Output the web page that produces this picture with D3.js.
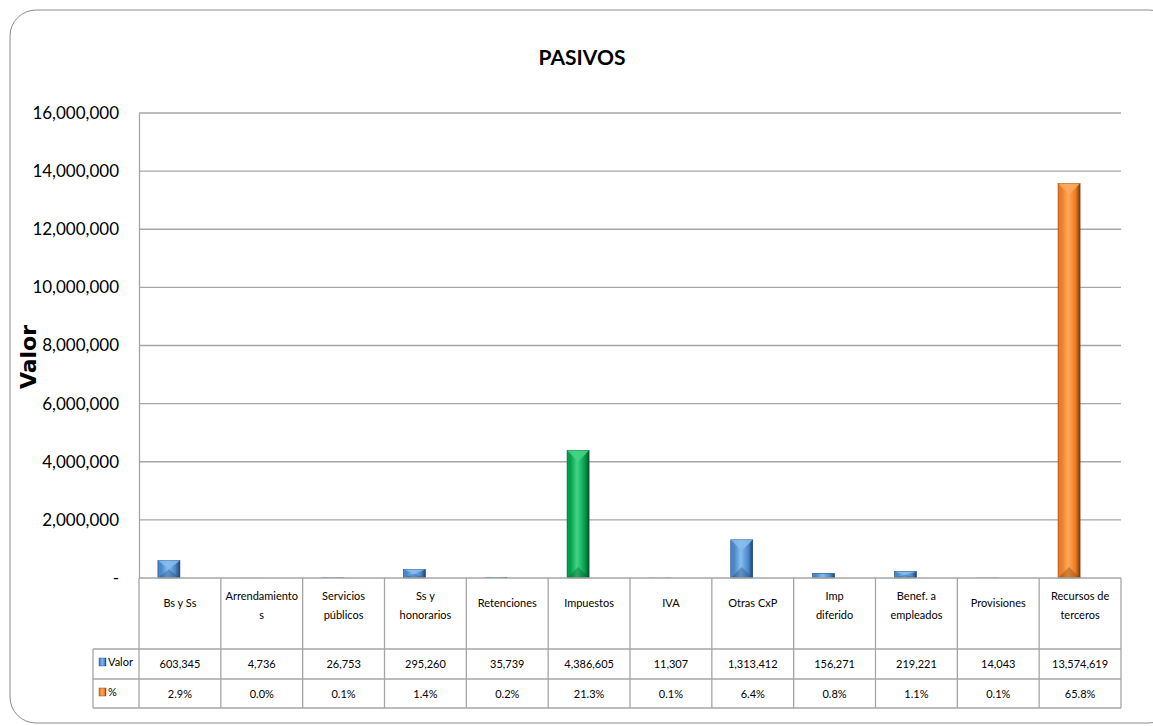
<!DOCTYPE html>
<html>
<head>
<meta charset="utf-8">
<script src="https://cdn.jsdelivr.net/npm/d3@7"></script>
<style>
  body { margin: 0; background: #fff; }
  svg { display: block; }
</style>
</head>
<body>
<div id="chart"></div>
<script>
// Chart data
var categories = ["Bs y Ss", "Arrendamientos", "Servicios públicos", "Ss y honorarios", "Retenciones",
  "Impuestos", "IVA", "Otras CxP", "Imp diferido", "Benef. a empleados", "Provisiones", "Recursos de terceros"];
var headerLines = [["Bs y Ss"], ["Arrendamiento", "s"], ["Servicios", "públicos"], ["Ss y", "honorarios"], ["Retenciones"],
  ["Impuestos"], ["IVA"], ["Otras CxP"], ["Imp", "diferido"], ["Benef. a", "empleados"], ["Provisiones"], ["Recursos de", "terceros"]];
var valor = [603345, 4736, 26753, 295260, 35739, 4386605, 11307, 1313412, 156271, 219221, 14043, 13574619];
var pct = [2.9, 0.0, 0.1, 1.4, 0.2, 21.3, 0.1, 6.4, 0.8, 1.1, 0.1, 65.8];
var series = ["Valor", "%"];
var yTicks = [0, 2000000, 4000000, 6000000, 8000000, 10000000, 12000000, 14000000, 16000000];

// Layout
var width = 1153, height = 726;
var plotLeft = 139, plotRight = 1121, plotTop = 113, plotBottom = 578;
var rowHeader = 649, rowValor = 679, rowPct = 708, legendLeft = 93;

var svg = d3.select("#chart").append("svg")
  .attr("width", width)
  .attr("height", height);

// colors for bars
var palette = {
  blue:   { base: "#4a86c8", light: "#86bdf0", dark: "#1d426e" },
  green:  { base: "#00a04c", light: "#45d485", dark: "#00522a" },
  orange: { base: "#ee7a22", light: "#ffa95c", dark: "#7a3a06" }
};
function colorOf(cat, s) {
  if (s === "%") return "orange";
  if (cat === "Impuestos") return "green";
  if (cat === "Recursos de terceros") return "orange";
  return "blue";
}

var defs = svg.append("defs");
Object.keys(palette).forEach(function(k) {
  var p = palette[k];
  var g = defs.append("linearGradient").attr("id", "grad-" + k)
    .attr("x1", "0").attr("x2", "1").attr("y1", "0").attr("y2", "0");
  g.append("stop").attr("offset", "0").attr("stop-color", p.base);
  g.append("stop").attr("offset", "0.15").attr("stop-color", p.base);
  g.append("stop").attr("offset", "0.45").attr("stop-color", p.light);
  g.append("stop").attr("offset", "0.8").attr("stop-color", p.base);
  g.append("stop").attr("offset", "1").attr("stop-color", p.dark);
});

// outer frame
svg.append("rect")
  .attr("x", 10).attr("y", 10)
  .attr("width", 1165).attr("height", 713)
  .attr("rx", 26).attr("ry", 26)
  .attr("fill", "#fff")
  .attr("stroke", "#8c8c8c")
  .attr("stroke-width", 1);

// scales
var y = d3.scaleLinear().domain([0, 16000000]).range([plotBottom, plotTop]);
var x0 = d3.scaleBand().domain(categories).range([plotLeft, plotRight]);
var x1 = d3.scaleBand().domain(series).range([0, x0.bandwidth()]).paddingOuter(0.86);

// gridlines
svg.append("g").selectAll("line")
  .data(yTicks.slice(1))
  .enter()
  .append("line")
  .attr("x1", plotLeft).attr("x2", plotRight)
  .attr("y1", function(d) { return y(d); })
  .attr("y2", function(d) { return y(d); })
  .attr("stroke", "#a6a6a6")
  .attr("stroke-width", 1.3);

// y axis
var yAxis = d3.axisLeft(y)
  .tickValues(yTicks)
  .tickSize(0)
  .tickPadding(20)
  .tickFormat(function(d) { return d === 0 ? "-  " : d3.format(",")(d); });

var gy = svg.append("g")
  .attr("transform", "translate(" + plotLeft + ",0)")
  .call(yAxis);
gy.select(".domain").attr("stroke", "#a6a6a6").attr("stroke-width", 1.3);
gy.selectAll("text")
  .attr("font-family", "Lato, 'Open Sans', sans-serif")
  .attr("font-size", "17px")
  .attr("fill", "#000");

// axis title
svg.append("text")
  .attr("transform", "translate(36,357) rotate(-90)")
  .attr("text-anchor", "middle")
  .attr("font-family", "'DejaVu Sans', Verdana, sans-serif")
  .attr("font-weight", "bold")
  .attr("font-size", "22px")
  .text("Valor");

// chart title
svg.append("text")
  .attr("x", 582).attr("y", 65)
  .attr("text-anchor", "middle")
  .attr("font-family", "Lato, 'Open Sans', sans-serif")
  .attr("font-weight", "bold")
  .attr("font-size", "21px")
  .text("PASIVOS");

// bars
var barData = [];
categories.forEach(function(c, i) {
  barData.push({ cat: c, s: "Valor", v: valor[i] });
  barData.push({ cat: c, s: "%", v: pct[i] / 100 });
});

var bars = svg.append("g").selectAll("g")
  .data(barData)
  .enter()
  .append("g");

bars.append("rect")
  .attr("x", function(d) { return x0(d.cat) + x1(d.s); })
  .attr("y", function(d) { return y(d.v); })
  .attr("width", x1.bandwidth())
  .attr("height", function(d) { return y(0) - y(d.v); })
  .attr("fill", function(d) { return "url(#grad-" + colorOf(d.cat, d.s) + ")"; })
  .attr("stroke", function(d) { return y(0) - y(d.v) > 2 ? palette[colorOf(d.cat, d.s)].dark : "none"; })
  .attr("stroke-width", 0.6);

// bevel: light triangle on top, darker one at bottom
bars.filter(function(d) { return y(0) - y(d.v) > 6; })
  .append("path")
  .attr("d", function(d) {
    var bx = x0(d.cat) + x1(d.s), bw = x1.bandwidth();
    var by = y(d.v), bh = y(0) - y(d.v);
    var dep = Math.min(bw / 2, bh / 2);
    return "M" + bx + "," + by + "L" + (bx + bw) + "," + by + "L" + (bx + bw / 2) + "," + (by + dep) + "Z";
  })
  .attr("fill", function(d) { return palette[colorOf(d.cat, d.s)].light; })
  .attr("opacity", 0.85);

bars.filter(function(d) { return y(0) - y(d.v) > 6; })
  .append("path")
  .attr("d", function(d) {
    var bx = x0(d.cat) + x1(d.s), bw = x1.bandwidth();
    var by = y(d.v), bh = y(0) - y(d.v);
    var dep = Math.min(bw / 2, bh / 2);
    return "M" + bx + "," + (by + bh) + "L" + (bx + bw) + "," + (by + bh) + "L" + (bx + bw / 2) + "," + (by + bh - dep) + "Z";
  })
  .attr("fill", function(d) { return palette[colorOf(d.cat, d.s)].dark; })
  .attr("opacity", 0.35);

// data table
var grid = svg.append("g")
  .attr("stroke", "#a6a6a6")
  .attr("stroke-width", 1.3);

// horizontal lines
grid.append("line").attr("x1", plotLeft).attr("x2", plotRight).attr("y1", plotBottom).attr("y2", plotBottom);
[rowHeader, rowValor, rowPct].forEach(function(yy) {
  grid.append("line").attr("x1", legendLeft).attr("x2", plotRight).attr("y1", yy).attr("y2", yy);
});
// vertical lines
grid.append("line").attr("x1", legendLeft).attr("x2", legendLeft).attr("y1", rowHeader).attr("y2", rowPct);
grid.selectAll("line.col")
  .data(categories)
  .enter()
  .append("line")
  .attr("class", "col")
  .attr("x1", function(d) { return x0(d); })
  .attr("x2", function(d) { return x0(d); })
  .attr("y1", plotBottom).attr("y2", rowPct);
grid.append("line").attr("x1", plotRight).attr("x2", plotRight).attr("y1", plotBottom).attr("y2", rowPct);

var tableFont = "Lato, 'Open Sans', sans-serif";

// header text
var headers = svg.append("g").selectAll("text")
  .data(categories)
  .enter()
  .append("text")
  .attr("text-anchor", "middle")
  .attr("font-family", tableFont)
  .attr("font-size", "11px")
  .attr("fill", "#000");

headers.each(function(d, i) {
  var lines = headerLines[i];
  var cx = x0(d) + x0.bandwidth() / 2;
  var startY = lines.length === 1 ? 607 : 600;
  d3.select(this).selectAll("tspan")
    .data(lines)
    .enter()
    .append("tspan")
    .attr("x", cx)
    .attr("y", function(l, j) { return startY + j * 19; })
    .text(function(l) { return l; });
});

// value row
svg.append("g").selectAll("text")
  .data(valor)
  .enter()
  .append("text")
  .attr("x", function(d, i) { return x0(categories[i]) + x0.bandwidth() / 2; })
  .attr("y", 668)
  .attr("text-anchor", "middle")
  .attr("font-family", tableFont)
  .attr("font-size", "11px")
  .text(function(d) { return d3.format(",")(d); });

// percent row
svg.append("g").selectAll("text")
  .data(pct)
  .enter()
  .append("text")
  .attr("x", function(d, i) { return x0(categories[i]) + x0.bandwidth() / 2; })
  .attr("y", 698)
  .attr("text-anchor", "middle")
  .attr("font-family", tableFont)
  .attr("font-size", "11px")
  .text(function(d) { return d.toFixed(1) + "%"; });

// legend keys in table
var legendRows = [
  { label: "Valor", y: 664, color: "blue" },
  { label: "%", y: 694, color: "orange" }
];
legendRows.forEach(function(r) {
  svg.append("rect")
    .attr("x", 99).attr("y", r.y - 6)
    .attr("width", 7).attr("height", 8)
    .attr("fill", "url(#grad-" + r.color + ")")
    .attr("stroke", palette[r.color].dark)
    .attr("stroke-width", 0.4);
  svg.append("text")
    .attr("x", 108).attr("y", r.y + 2)
    .attr("font-family", tableFont)
    .attr("font-size", "11px")
    .text(r.label);
});
</script>
</body>
</html>
